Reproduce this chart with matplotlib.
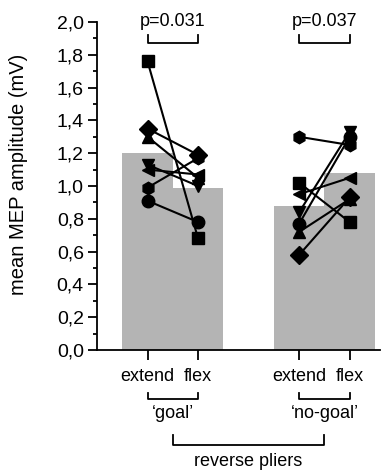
import matplotlib
matplotlib.use("Agg")
import matplotlib.pyplot as plt
import matplotlib.transforms as mtransforms
from matplotlib.ticker import MultipleLocator, FuncFormatter

plt.rcParams['font.family'] = ['Liberation Sans', 'DejaVu Sans']

# ---- data ----
conditions = ["extend", "flex", "extend", "flex"]
positions = [1, 2, 4, 5]
bar_means = [1.20, 0.99, 0.88, 1.08]

markers = ['s', 'D', '^', 'v', '<', 'h', 'o']
goal_extend = [1.76, 1.35, 1.30, 1.13, 1.10, 0.99, 0.91]
goal_flex = [0.68, 1.19, 1.05, 1.00, 1.07, 1.17, 0.78]
nogoal_extend = [1.02, 0.58, 0.72, 0.84, 0.95, 1.30, 0.77]
nogoal_flex = [0.78, 0.93, 0.92, 1.33, 1.05, 1.25, 1.30]

p_values = ["p=0.031", "p=0.037"]
group_labels = ["\u2018goal\u2019", "\u2018no-goal\u2019"]
overall_label = "reverse pliers"
ylabel = "mean MEP amplitude (mV)"

fig = plt.figure(figsize=(3.88, 4.70), dpi=100)
ax = fig.add_axes([97/388, 1 - 350/470, (380 - 97)/388, (350 - 22)/470])

ax.bar(positions, bar_means, width=1.0, color='#b4b4b4', zorder=1)

for pair, (ext, flx) in zip([(1, 2), (4, 5)], [(goal_extend, goal_flex), (nogoal_extend, nogoal_flex)]):
    for m, e, f in zip(markers, ext, flx):
        ax.plot(pair, [e, f], color='black', lw=1.5, zorder=2)
        ax.plot(pair, [e, f], linestyle='none', marker=m, color='black',
                markersize=9, zorder=3)

ax.set_xlim(0, 5.6)
ax.set_ylim(0, 2.0)
ax.yaxis.set_major_locator(MultipleLocator(0.2))
ax.yaxis.set_minor_locator(MultipleLocator(0.1))
ax.yaxis.set_major_formatter(FuncFormatter(lambda v, p: f"{v:.1f}".replace('.', ',')))
ax.set_xticks(positions)
ax.set_xticklabels(conditions)
for s in ['top', 'right']:
    ax.spines[s].set_visible(False)
for s in ['left', 'bottom']:
    ax.spines[s].set_linewidth(1.3)
ax.tick_params(axis='y', which='major', length=6.5, width=1.3, labelsize=14, direction='out', pad=3)
ax.tick_params(axis='y', which='minor', length=3, width=1.3)
ax.tick_params(axis='x', length=7, width=1.3, labelsize=13, pad=6)

fig.text(19/388, 1 - 174/470, ylabel, rotation=90, ha='center', va='center', fontsize=14.5)

# p-value brackets
for (a, b), ptxt in zip([(1, 2), (4, 5)], p_values):
    ax.plot([a, a, b, b], [1.92, 1.87, 1.87, 1.92], color='black', lw=1.3, clip_on=False)
    ax.text((a + b) / 2, 1.95, ptxt, ha='center', va='bottom', fontsize=13)

# group brackets below axis (x in data, y in figure pixels)
trans = mtransforms.blended_transform_factory(ax.transData, fig.transFigure)
def fy(px):
    return 1 - px / 470

for (a, b), g in zip([(1, 2), (4, 5)], group_labels):
    ax.plot([a, a, b, b], [fy(393), fy(399), fy(399), fy(393)], color='black', lw=1.3,
            transform=trans, clip_on=False)
    ax.text((a + b) / 2, fy(414), g, ha='center', va='center', fontsize=13, transform=trans)

ga, gb = 1.5, 4.5
ax.plot([ga, ga, gb, gb], [fy(435), fy(445), fy(445), fy(435)], color='black', lw=1.3,
        transform=trans, clip_on=False)
ax.text((ga + gb) / 2, fy(462), overall_label, ha='center', va='center', fontsize=13, transform=trans)

fig.savefig("out.png", dpi=100)
